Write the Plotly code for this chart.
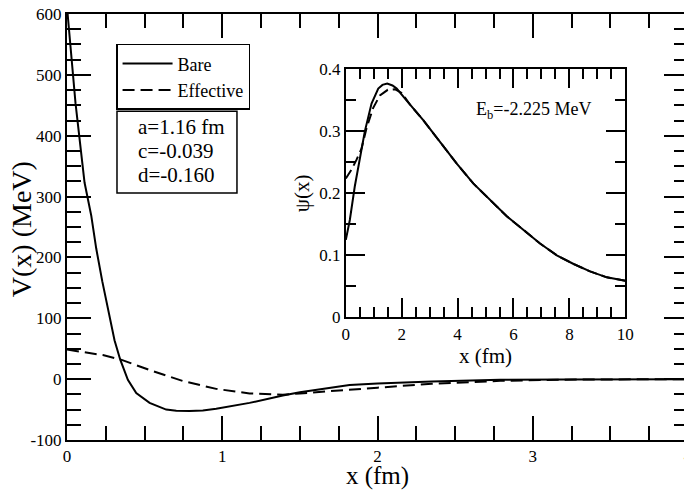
import plotly.graph_objects as go

# --- potentiel V(x) : nu (Bare) et effectif (Effective) ---
x_bare = [0.0, 0.005, 0.055, 0.09, 0.113, 0.156, 0.188, 0.227, 0.274, 0.306,
          0.343, 0.392, 0.446, 0.532, 0.639, 0.704, 0.789, 0.875, 0.961, 1.068,
          1.176, 1.39, 1.5, 1.82, 2.0, 2.35, 2.79, 3.2, 4.0]
v_bare = [620, 597, 453, 372, 323, 269, 215, 161, 100, 64,
          32, -1, -23, -39, -50, -51.9, -52.5, -51.4, -48.5, -44.4,
          -39, -27, -21.5, -9.5, -7, -3.8, -1.2, -0.4, 0]

x_eff = [0.0, 0.166, 0.231, 0.343, 0.532, 0.746, 0.961, 1.176, 1.3, 1.39,
         1.5, 1.82, 2.0, 2.35, 2.79, 3.2, 4.0]
v_eff = [48.6, 42, 39.5, 32.4, 15, -3, -16, -23.5, -25.5, -25.8,
         -23.5, -17, -14, -7.6, -2.8, -0.8, 0]

# --- fonction d'onde psi(x) (encart) ---
x_psi_bare = [0.0, 0.143, 0.32, 0.5, 0.68, 0.92, 1.16, 1.31, 1.48, 1.67,
              1.82, 2.17, 2.77, 3.37, 3.97, 4.56, 5.16, 5.76, 6.36, 6.95,
              7.55, 8.15, 8.74, 9.34, 10.0]
psi_bare = [0.125, 0.157, 0.211, 0.254, 0.300, 0.345, 0.369, 0.375, 0.377, 0.374,
            0.369, 0.350, 0.318, 0.283, 0.248, 0.216, 0.189, 0.163, 0.141, 0.119,
            0.100, 0.086, 0.074, 0.0645, 0.059]

x_psi_eff = [0.0, 0.2, 0.38, 0.56, 0.74, 0.98, 1.22, 1.5, 1.75, 2.0,
             2.3, 2.77, 3.37, 3.97, 4.56, 5.16, 5.76, 6.36, 6.95, 7.55,
             8.15, 8.74, 9.34, 10.0]
psi_eff = [0.224, 0.238, 0.254, 0.272, 0.305, 0.338, 0.358, 0.367, 0.368, 0.362,
           0.343, 0.318, 0.283, 0.248, 0.216, 0.189, 0.163, 0.141, 0.119, 0.100,
           0.086, 0.074, 0.0645, 0.059]

# --- graduations ---
main_xticks = [0, 1, 2, 3, 4]
main_yticks = [-100, 0, 100, 200, 300, 400, 500, 600]
main_ytext = ["-100", "0", "100", "200", "300", "400", "500", "600"]
inset_xticks = [0, 2, 4, 6, 8, 10]
inset_yticks = [0, 0.1, 0.2, 0.3, 0.4]
inset_ytext = ["0", "0.1", "0.2", "0.3", "0.4"]

param_lines = ["a=1.16 fm", "c=-0.039", "d=-0.160"]
energy_label = "E<sub>b</sub>=-2.225 MeV"
y_title = "V(x) (MeV)"

FONT = "Liberation Serif"

fig = go.Figure()
fig.add_trace(go.Scatter(x=x_bare, y=v_bare, mode="lines", name="Bare",
                         line=dict(color="black", width=2)))
fig.add_trace(go.Scatter(x=x_eff, y=v_eff, mode="lines", name="Effective",
                         line=dict(color="black", width=2, dash="12px,6px")))
fig.add_trace(go.Scatter(x=x_psi_bare, y=psi_bare, mode="lines", showlegend=False,
                         xaxis="x2", yaxis="y2",
                         line=dict(color="black", width=2)))
fig.add_trace(go.Scatter(x=x_psi_eff, y=psi_eff, mode="lines", showlegend=False,
                         xaxis="x2", yaxis="y2",
                         line=dict(color="black", width=2, dash="10px,5px")))


def axe(**kw):
    base = dict(showline=True, linewidth=2, linecolor="black", mirror="ticks",
                ticks="inside", tickwidth=2, tickcolor="black",
                showgrid=False, zeroline=False, automargin=False,
                ticklabeloverflow="allow",
                tickfont=dict(family=FONT, size=17, color="black"))
    base.update(kw)
    return base


# la page ajoute 8 px de marge au body : figure réduite d'autant
fig.update_layout(
    width=684, height=482,
    margin=dict(l=59, r=4, t=6, b=50),
    paper_bgcolor="white", plot_bgcolor="white",
    font=dict(family=FONT, color="black"),
    xaxis=axe(domain=[0, 1], range=[0, 4], tickvals=main_xticks, ticklen=24,
              minor=dict(dtick=0.25, ticklen=14, tickwidth=2, ticks="inside",
                         tickcolor="black"),
              title=dict(text="x (fm)", font=dict(size=25), standoff=0)),
    yaxis=axe(domain=[0, 1], range=[-100, 600], tickvals=main_yticks,
              ticktext=main_ytext, ticklen=24,
              minor=dict(dtick=25, ticklen=14, tickwidth=2, ticks="inside",
                         tickcolor="black")),
    xaxis2=axe(domain=[0.449, 0.899], anchor="y2", range=[0, 10],
               tickvals=inset_xticks, ticklen=19,
               minor=dict(dtick=0.5, ticklen=10, tickwidth=2, ticks="inside",
                          tickcolor="black"),
               title=dict(text="x (fm)", font=dict(size=21), standoff=2)),
    yaxis2=axe(domain=[0.288, 0.870], anchor="x2", range=[0, 0.4],
               tickvals=inset_yticks, ticktext=inset_ytext, ticklen=19,
               minor=dict(dtick=0.05, ticklen=10, tickwidth=2, ticks="inside",
                          tickcolor="black"),
               title=dict(text="ψ(x)", font=dict(size=21), standoff=4)),
    legend=dict(x=0.079, y=0.930, xanchor="left", yanchor="top",
                bgcolor="white", bordercolor="black", borderwidth=1.5,
                itemwidth=50,
                font=dict(family=FONT, size=18), tracegroupgap=0),
    showlegend=True,
)

# titre de l'axe V : annotation tournée (placement précis)
fig.add_annotation(xref="paper", yref="paper", x=-0.074, y=0.495,
                   xanchor="center", yanchor="middle", textangle=-90,
                   showarrow=False, text=y_title,
                   font=dict(family=FONT, size=28, color="black"))

# cadre des paramètres
fig.add_shape(type="rect", xref="paper", yref="paper",
              x0=0.0805, x1=0.2737, y0=0.580, y1=0.772,
              line=dict(color="black", width=1.5), fillcolor="white", layer="above")
for i, ligne in enumerate(param_lines):
    fig.add_annotation(xref="paper", yref="paper", x=0.111, y=0.735 - i * 0.0565,
                       xanchor="left", yanchor="middle", showarrow=False,
                       text=ligne, font=dict(family=FONT, size=21, color="black"))

fig.add_annotation(xref="x2", yref="y2", x=6.7, y=0.333, showarrow=False,
                   text=energy_label, font=dict(family=FONT, size=18, color="black"))

fig.write_html("out.html")
